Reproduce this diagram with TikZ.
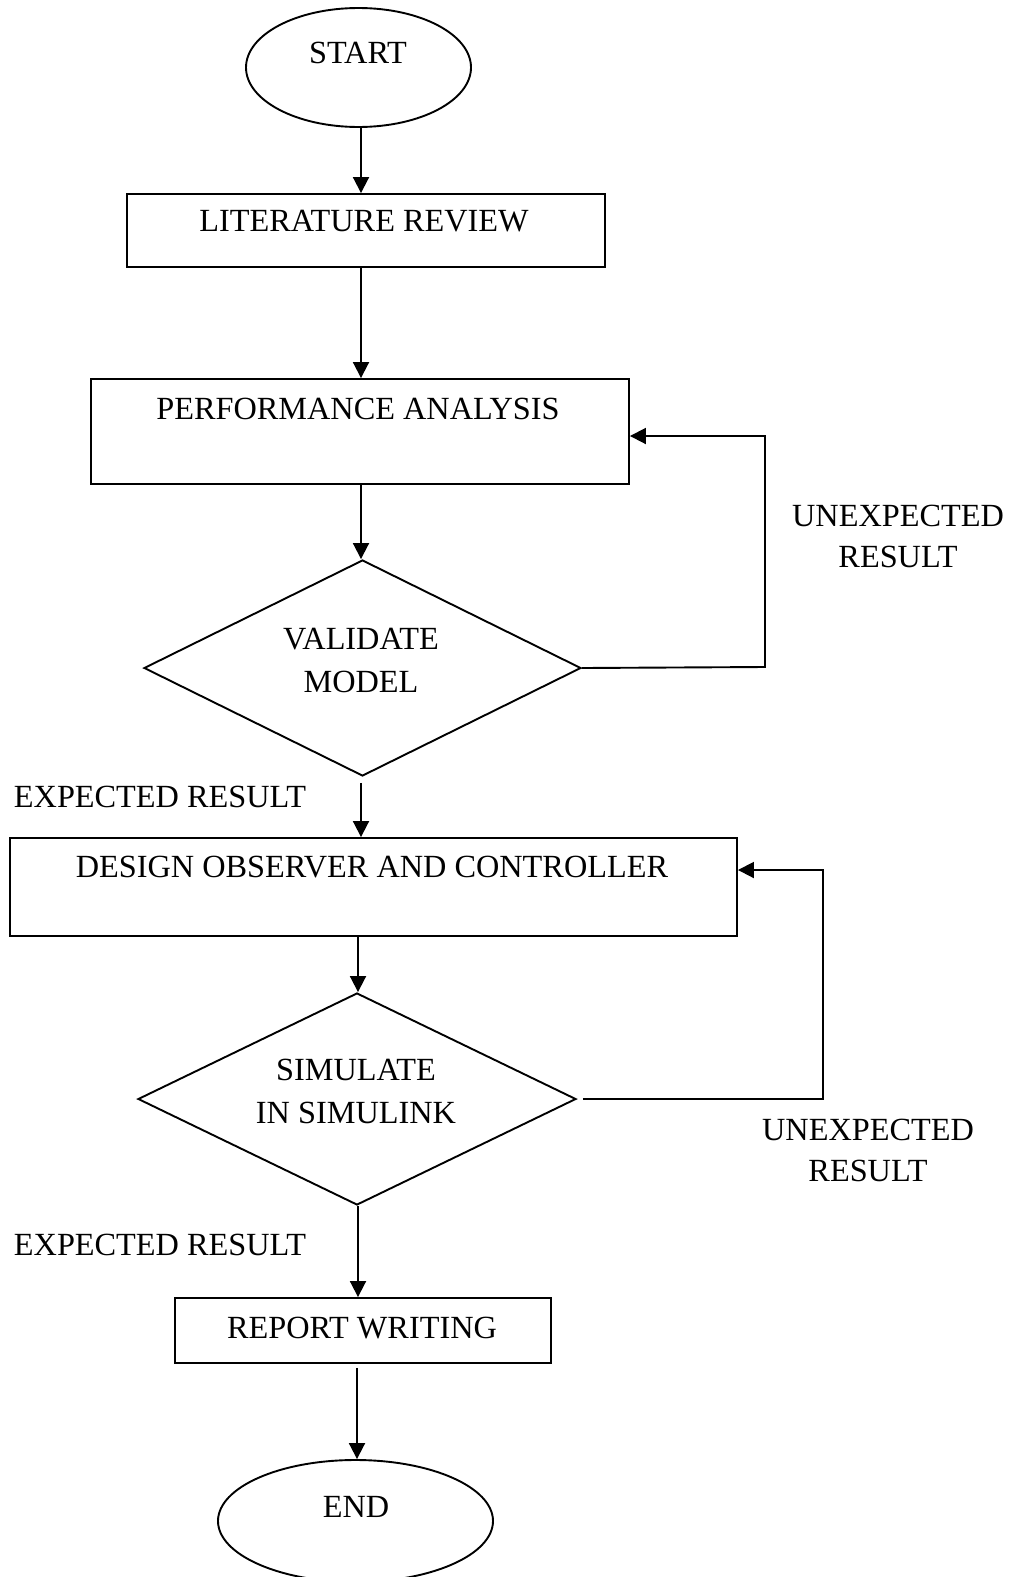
\documentclass[tikz,border=0pt]{standalone}
\usepackage{fontspec}
\setmainfont{Liberation Serif}
\usetikzlibrary{shapes.geometric,arrows.meta}
\begin{document}
\begin{tikzpicture}[x=1pt,y=-1pt,
  line width=1.9pt,
  every node/.style={font=\fontsize{32.3}{41}\selectfont},
  boxs/.style={draw,rectangle,inner sep=0pt},
  ovals/.style={draw,ellipse,inner sep=0pt},
  dias/.style={draw,diamond,inner sep=0pt},
  txt/.style={inner sep=0pt,align=center},
  dtxt/.style={inner sep=0pt,align=center,font=\fontsize{32.3}{43}\selectfont},
  arr/.style={-{Triangle[length=16pt,width=16pt]}}
]
\useasboundingbox (0,0) rectangle (1011,1577);
% shapes
\node[ovals,minimum width=225pt,minimum height=119pt] (start) at (358.5,67.5) {};
\node[txt] (tstart) at (358,53) {START};
\node[boxs,minimum width=478pt,minimum height=73pt] (lit) at (366,230.5) {};
\node[txt] (tlit) at (364,221) {LITERATURE REVIEW};
\node[boxs,minimum width=538pt,minimum height=105pt] (pa) at (360,431.5) {};
\node[txt] (tpa) at (358,409) {PERFORMANCE ANALYSIS};
\node[dias,minimum width=437pt,minimum height=216pt] (vm) at (362.5,668) {};
\node[dtxt] (tvm) at (361,660) {VALIDATE\\MODEL};
\node[boxs,minimum width=727pt,minimum height=98pt] (doc) at (373.5,887) {};
\node[txt] (tdoc) at (372,867) {DESIGN OBSERVER AND CONTROLLER};
\node[dias,minimum width=438pt,minimum height=212pt] (sim) at (357,1099) {};
\node[dtxt] (tsim) at (356,1091) {SIMULATE\\IN SIMULINK};
\node[boxs,minimum width=376pt,minimum height=65pt] (rep) at (363,1330.5) {};
\node[txt] (trep) at (362,1328) {REPORT WRITING};
\node[ovals,minimum width=275pt,minimum height=122pt] (end) at (355.5,1521) {};
\node[txt] (tend) at (356,1507) {END};
% labels
\node[txt] (u1) at (898,536) {UNEXPECTED\\RESULT};
\node[txt,anchor=west] (e1) at (13,797) {EXPECTED RESULT};
\node[txt] (u2) at (868,1150) {UNEXPECTED\\RESULT};
\node[txt,anchor=west] (e2) at (13,1245) {EXPECTED RESULT};
% helper coordinates
\coordinate (c1) at (765,667);
\coordinate (c2) at (765,436);
\coordinate (c3) at (823,1099);
\coordinate (c4) at (823,870);
% connectors
\draw[arr] (start.south -| 361,0) -- (lit.north -| 361,0);
\draw[arr] (lit.south -| 361,0) -- (pa.north -| 361,0);
\draw[arr] (pa.south -| 361,0) -- (vm.north -| 361,0);
\draw[arr,shorten <=6pt] (vm.south -| 361,0) -- (doc.north -| 361,0);
\draw[arr] (doc.south -| 358,0) -- (sim.north -| 358,0);
\draw[arr] (sim.south -| 358,0) -- (rep.north -| 358,0);
\draw[arr,shorten <=4pt] (rep.south -| 357,0) -- (end.north -| 357,0);
\draw[arr] (vm.east) -- (c1) -- (c2) -- (pa.east |- c2);
\draw[arr,shorten <=6pt] (sim.east) -- (c3) -- (c4) -- (doc.east |- c4);
\end{tikzpicture}
\end{document}
